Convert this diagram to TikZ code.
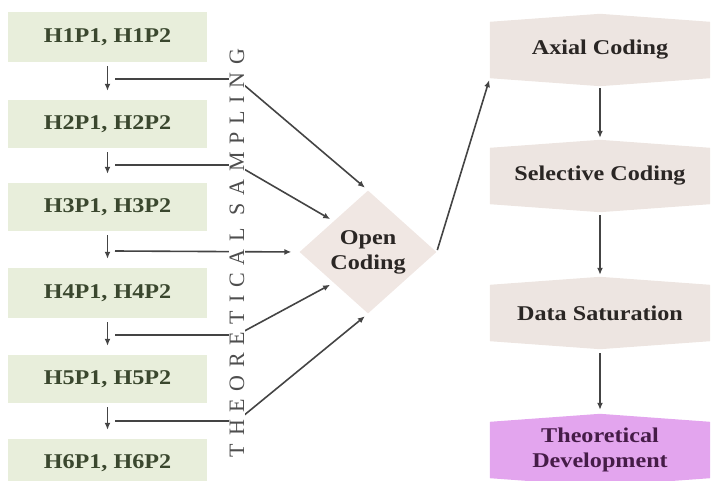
\documentclass[tikz,border=0pt]{standalone}
\usepackage{fontspec}
\setmainfont{Liberation Serif}
\newfontfamily\boxfont[FakeStretch=1.15]{Liberation Serif}
\newfontfamily\sidefont[LetterSpace=35]{Liberation Serif}
\usetikzlibrary{shapes.geometric,calc,arrows.meta}
\pgfdeclarelayer{background}
\pgfsetlayers{background,main}
\definecolor{leftfill}{HTML}{E8EEDB}
\definecolor{lefttext}{HTML}{3A472E}
\definecolor{rightfill}{HTML}{EDE5E1}
\definecolor{diafill}{HTML}{F0E7E3}
\definecolor{righttext}{HTML}{2A2624}
\definecolor{theofill}{HTML}{E3A5EE}
\definecolor{theotext}{HTML}{451C47}
\definecolor{linecol}{HTML}{444444}
\definecolor{sidetext}{HTML}{4E4E4E}
\tikzset{
  leftbox/.style={fill=leftfill, minimum width=199pt, minimum height=48pt, inner sep=0pt,
    font=\boxfont\bfseries\fontsize{21}{25}\selectfont, text=lefttext},
  rightbox/.style={minimum width=220pt, minimum height=56pt, inner sep=0pt, align=center,
    font=\boxfont\bfseries\fontsize{21}{25}\selectfont, text=righttext},
  conn/.style={draw=linecol, line width=1.6pt, -{Latex[length=7pt,width=6pt]}},
}
\newcommand{\hexfill}[2]{%
  \begin{pgfonlayer}{background}
    \fill[#2] (#1.north west) -- ($(#1.north)+(0,-8)$) -- (#1.north east) -- (#1.south east)
      -- ($(#1.south)+(0,8)$) -- (#1.south west) -- cycle;
  \end{pgfonlayer}}
\begin{document}
\begin{tikzpicture}[x=1pt,y=-1pt]
\useasboundingbox (0,0) rectangle (711,481);
% left boxes
\node[leftbox, minimum height=50pt] (h1) at (107.5,37) {H1P1, H1P2};
\node[leftbox] (h2) at (107.5,124) {H2P1, H2P2};
\node[leftbox] (h3) at (107.5,207) {H3P1, H3P2};
\node[leftbox, minimum height=50pt] (h4) at (107.5,293) {H4P1, H4P2};
\node[leftbox] (h5) at (107.5,379) {H5P1, H5P2};
\node[leftbox] (h6) at (107.5,463) {H6P1, H6P2};
\foreach \a/\b in {h1/h2,h2/h3,h3/h4,h4/h5,h5/h6}
  \draw[conn, shorten <=4pt, shorten >=9pt] (\a.south) -- (\b.north);
% open coding
\node[diamond, fill=diafill, minimum width=137pt, minimum height=123pt, inner sep=0pt, aspect=1.1,
  align=center, font=\boxfont\bfseries\fontsize{21}{25}\selectfont, text=righttext] (open) at (368,252) {Open\\Coding};
% sampling lines
\coordinate (s1) at (115,79);  \coordinate (b1) at (237,79);
\coordinate (s2) at (115,165); \coordinate (b2) at (237,165);
\coordinate (s3) at (115,251);
\coordinate (s4) at (115,335); \coordinate (b4) at (237,335);
\coordinate (s5) at (115,421); \coordinate (b5) at (237,421);
\coordinate (t2) at ($(open.west)!0.5!(open.north)$);
\coordinate (t4) at ($(open.west)!0.5!(open.south)$);
\draw[conn, shorten >=4pt] (s1) -- (b1) -- (open.north);
\draw[conn, shorten >=4pt] (s2) -- (b2) -- (t2);
\draw[conn, shorten >=8pt] (s3) -- (open.west);
\draw[conn, shorten >=4pt] (s4) -- (b4) -- (t4);
\draw[conn, shorten >=4pt] (s5) -- (b5) -- (open.south);
% vertical label
\node[rotate=90, fill=white, inner sep=1pt, font=\sidefont\fontsize{22}{26}\selectfont, text=sidetext] (ts) at (237,253) {THEORETICAL SAMPLING};
% right column
\node[rightbox] (axial) at (600,50) {Axial Coding};
\node[rightbox] (sel) at (600,176) {Selective Coding};
\node[rightbox] (data) at (600,313) {Data Saturation};
\node[rightbox, text=theotext] (theo) at (600,450) {Theoretical\\Development};
\hexfill{axial}{rightfill}
\hexfill{sel}{rightfill}
\hexfill{data}{rightfill}
\hexfill{theo}{theofill}
\draw[conn, shorten <=2pt, shorten >=2pt] (open.east) -- (axial.south west);
\draw[conn, shorten <=10pt, shorten >=10pt] (axial.south) -- (sel.north);
\draw[conn, shorten <=11pt, shorten >=10pt] (sel.south) -- (data.north);
\draw[conn, shorten <=12pt, shorten >=12pt] (data.south) -- (theo.north);
\end{tikzpicture}
\end{document}
